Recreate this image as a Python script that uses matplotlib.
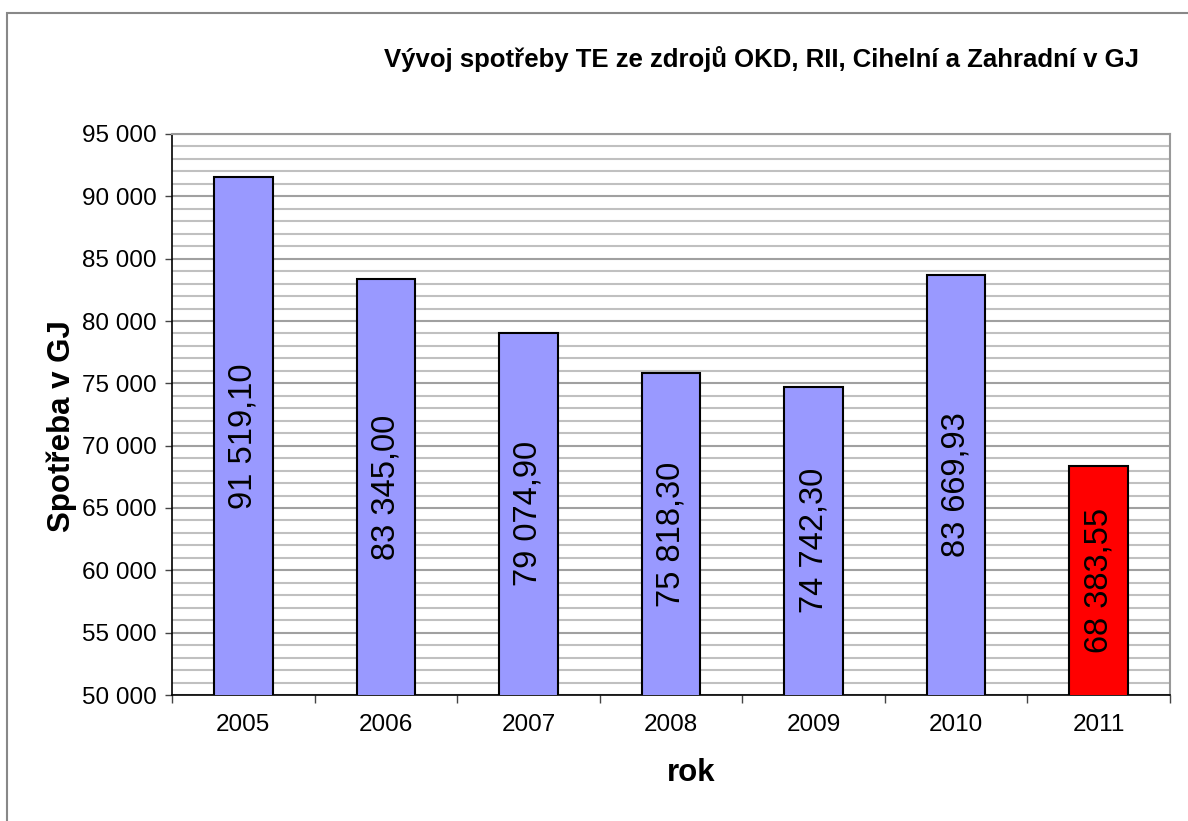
import matplotlib
matplotlib.use("Agg")
import matplotlib.pyplot as plt
from matplotlib.patches import Rectangle
from matplotlib.ticker import MultipleLocator, FuncFormatter

years = ["2005", "2006", "2007", "2008", "2009", "2010", "2011"]
values = [91519.10, 83345.00, 79074.90, 75818.30, 74742.30, 83669.93, 68383.55]
labels = ["91 519,10", "83 345,00", "79 074,90", "75 818,30", "74 742,30", "83 669,93", "68 383,55"]
colors = ["#9999ff"] * 6 + ["#ff0000"]

plt.rcParams['font.family'] = ['Liberation Sans', 'DejaVu Sans']

fig = plt.figure(figsize=(11.88, 8.21), dpi=100)
fig.patches.append(Rectangle((7/1188, -0.1), 1.2, 1 - 13/821 + 0.1, transform=fig.transFigure,
                             fill=False, edgecolor="#888888", linewidth=1.5))
ax = fig.add_axes([172/1188, 1 - 695/821, (1170-172)/1188, (695-134)/821])

x = list(range(len(years)))
ax.bar(x, values, width=0.41, color=colors, edgecolor="black", linewidth=1.5, zorder=3)
ax.set_xlim(-0.5, len(years) - 0.5)
ax.set_ylim(50000, 95000)

ax.yaxis.set_major_locator(MultipleLocator(5000))
ax.yaxis.set_minor_locator(MultipleLocator(1000))
ax.yaxis.set_major_formatter(FuncFormatter(lambda v, p: f"{int(v):,}".replace(",", " ")))
ax.grid(axis="y", which="minor", color="#c0c0c0", linewidth=1.5, zorder=0)
ax.grid(axis="y", which="major", color="#a0a0a0", linewidth=1.5, zorder=0)
ax.tick_params(axis="y", which="minor", length=0)
ax.tick_params(axis="y", which="major", length=5, width=1, labelsize=17.5, color="#444444", pad=6)

ax.set_xticks(x)
ax.set_xticklabels(years, fontsize=17.5)
ax.tick_params(axis="x", which="major", length=0, pad=14)
ax.set_xticks([i - 0.5 for i in range(len(years) + 1)], minor=True)
ax.tick_params(axis="x", which="minor", length=6, width=1, color="#444444")

for s in ["top", "right"]:
    ax.spines[s].set_color("#999999")
    ax.spines[s].set_linewidth(1.5)
for s in ["left", "bottom"]:
    ax.spines[s].set_color("black")
    ax.spines[s].set_linewidth(1.2)

for i, (v, lab) in enumerate(zip(values, labels)):
    ax.text(i, (50000 + v) / 2, lab, rotation=90, ha="center", va="center", fontsize=23.5, zorder=4)

ax.set_ylabel("Spotřeba v GJ", fontsize=22.5, fontweight="bold", va="center")
ax.yaxis.set_label_coords((62 - 172) / 998, (695 - 426) / 561)
ax.set_xlabel("rok", fontsize=22.5, fontweight="bold", va="center")
ax.xaxis.set_label_coords((691 - 172) / 998, -(773 - 695) / 561)
fig.text(762/1188, 1 - 59/821, "Vývoj spotřeby TE ze zdrojů OKD, RII, Cihelní a Zahradní v GJ",
         ha="center", va="center", fontsize=18.5, fontweight="bold")

fig.savefig("out.png", dpi=100)
